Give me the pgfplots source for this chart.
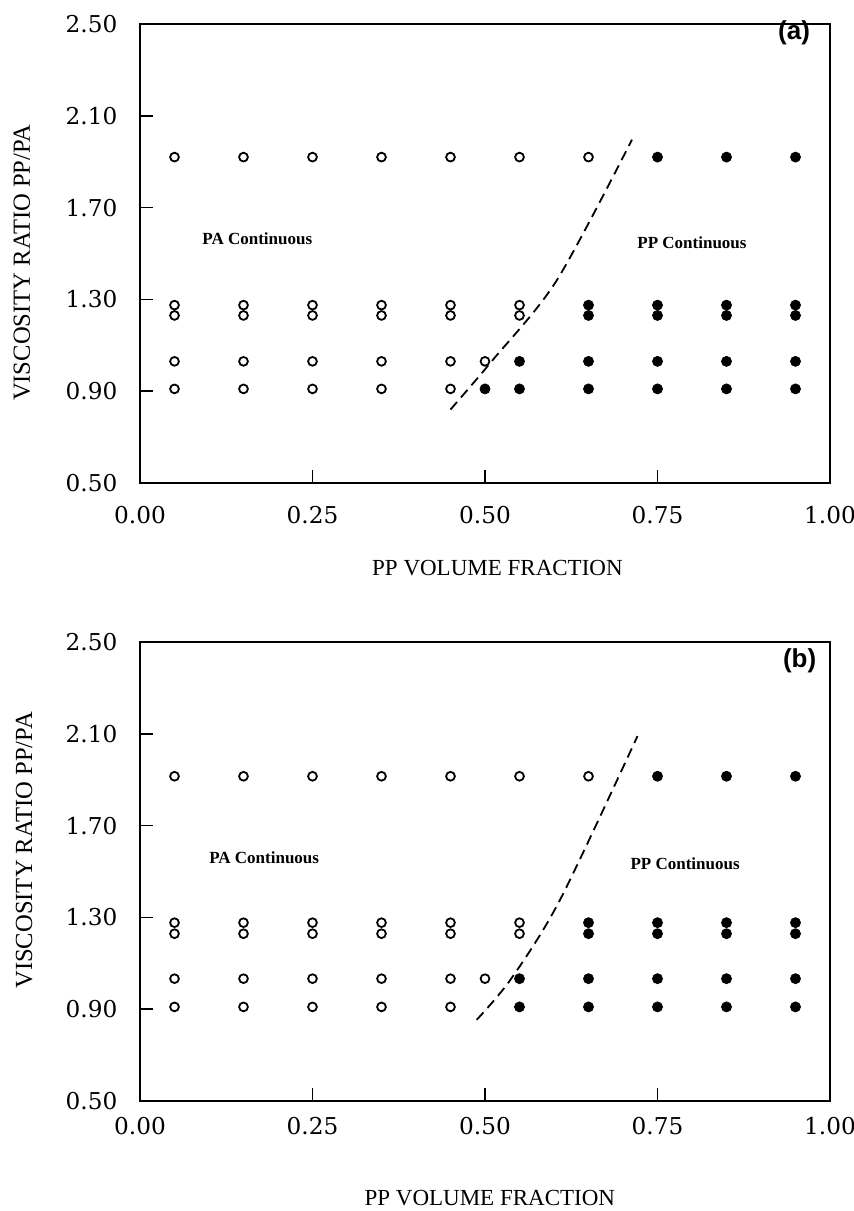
\documentclass[border=0pt]{standalone}
\usepackage{fontspec}
\setmainfont{Liberation Serif}
\newfontfamily\tickfont{DejaVu Serif}
\newfontfamily\sansbold{Liberation Sans}
\usepackage{pgfplots}
\pgfplotsset{compat=1.18}
\usepackage{pgfplotstable}

\pgfplotstableread{
x y
0.05 1.92
0.15 1.92
0.25 1.92
0.35 1.92
0.45 1.92
0.55 1.92
0.65 1.92
0.05 1.275
0.15 1.275
0.25 1.275
0.35 1.275
0.45 1.275
0.55 1.275
0.05 1.23
0.15 1.23
0.25 1.23
0.35 1.23
0.45 1.23
0.55 1.23
0.05 1.03
0.15 1.03
0.25 1.03
0.35 1.03
0.45 1.03
0.50 1.03
0.05 0.91
0.15 0.91
0.25 0.91
0.35 0.91
0.45 0.91
}\openA

\pgfplotstableread{
x y
0.75 1.92
0.85 1.92
0.95 1.92
0.65 1.275
0.75 1.275
0.85 1.275
0.95 1.275
0.65 1.23
0.75 1.23
0.85 1.23
0.95 1.23
0.55 1.03
0.65 1.03
0.75 1.03
0.85 1.03
0.95 1.03
0.50 0.91
0.55 0.91
0.65 0.91
0.75 0.91
0.85 0.91
0.95 0.91
}\fillA

\pgfplotstableread{
x y
0.05 1.915
0.15 1.915
0.25 1.915
0.35 1.915
0.45 1.915
0.55 1.915
0.65 1.915
0.05 1.277
0.15 1.277
0.25 1.277
0.35 1.277
0.45 1.277
0.55 1.277
0.05 1.229
0.15 1.229
0.25 1.229
0.35 1.229
0.45 1.229
0.55 1.229
0.05 1.033
0.15 1.033
0.25 1.033
0.35 1.033
0.45 1.033
0.50 1.033
0.05 0.91
0.15 0.91
0.25 0.91
0.35 0.91
0.45 0.91
}\openB

\pgfplotstableread{
x y
0.75 1.915
0.85 1.915
0.95 1.915
0.65 1.277
0.75 1.277
0.85 1.277
0.95 1.277
0.65 1.229
0.75 1.229
0.85 1.229
0.95 1.229
0.55 1.033
0.65 1.033
0.75 1.033
0.85 1.033
0.95 1.033
0.55 0.91
0.65 0.91
0.75 0.91
0.85 0.91
0.95 0.91
}\fillB

\pgfplotsset{
  panel/.style={
    scale only axis,
    width=345pt, height=229.5pt,
    xmin=0, xmax=1, ymin=0.5, ymax=2.5,
    xtick={0,0.25,0.5,0.75,1},
    ytick={0.5,0.9,1.3,1.7,2.1,2.5},
    tick pos=left,
    tick align=inside,
    major tick length=6.5pt,
    axis line style={line width=0.8pt},
    every tick/.style={line width=0.8pt, black},
    /pgf/number format/assume math mode=true,
    /pgf/number format/fixed,
    /pgf/number format/fixed zerofill,
    /pgf/number format/precision=2,
    tick label style={font=\tickfont\fontsize{11.6}{13}\selectfont},
    yticklabel style={xshift=-7.8pt},
    xlabel={PP VOLUME FRACTION},
    ylabel={VISCOSITY RATIO PP/PA},
    xlabel style={font=\fontsize{11.5}{13}\selectfont, anchor=center},
    ylabel style={font=\fontsize{12.3}{14}\selectfont, anchor=center},
    clip=false,
  },
  openmark/.style={only marks, mark=o, mark size=2.2pt, mark options={line width=0.9pt, black}},
  fillmark/.style={only marks, mark=*, mark size=2.5pt, mark options={black, fill=black}},
  divline/.style={black, line width=0.9pt, dash pattern=on 5pt off 3pt, smooth},
}

\begin{document}
\begin{tikzpicture}
\path[use as bounding box] (0,0) rectangle (427pt,605.5pt);

% Panel (a)
\begin{axis}[panel,
  at={(70pt,364pt)}, anchor=south west,
  xticklabel style={yshift=-8pt},
  xlabel style={at={(axis description cs:0.518,-0.185)}},
  ylabel style={at={(axis description cs:-0.171,0.48)}},
]
\addplot[openmark] table {\openA};
\addplot[fillmark] table {\fillA};
\addplot[divline] coordinates {(0.45,0.82) (0.511,1.035) (0.604,1.383) (0.713,1.996)};
\node[font=\bfseries\fontsize{8.5}{10}\selectfont] at (axis cs:0.17,1.565) {PA Continuous};
\node[font=\bfseries\fontsize{8.5}{10}\selectfont] at (axis cs:0.80,1.548) {PP Continuous};
\node[font=\sansbold\bfseries\fontsize{13}{15}\selectfont] at (axis cs:0.948,2.46) {(a)};
\end{axis}

% Panel (b)
\begin{axis}[panel,
  at={(70pt,55pt)}, anchor=south west,
  xticklabel style={yshift=-4.4pt},
  xlabel style={at={(axis description cs:0.507,-0.212)}},
  ylabel style={at={(axis description cs:-0.168,0.546)}},
]
\addplot[openmark] table {\openB};
\addplot[fillmark] table {\fillB};
\addplot[divline] coordinates {(0.488,0.854) (0.538,1.033) (0.609,1.378) (0.721,2.09)};
\node[font=\bfseries\fontsize{8.5}{10}\selectfont] at (axis cs:0.18,1.56) {PA Continuous};
\node[font=\bfseries\fontsize{8.5}{10}\selectfont] at (axis cs:0.79,1.535) {PP Continuous};
\node[font=\sansbold\bfseries\fontsize{13}{15}\selectfont] at (axis cs:0.956,2.42) {(b)};
\end{axis}
\end{tikzpicture}
\end{document}
